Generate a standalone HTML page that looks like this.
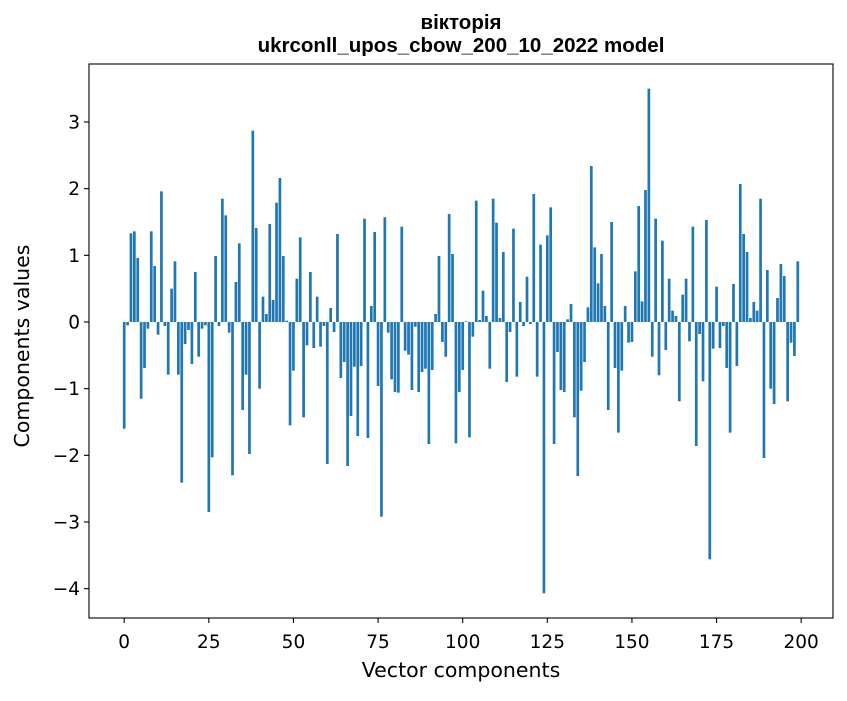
<!DOCTYPE html>
<html><head><meta charset="utf-8"><style>
body{margin:0;background:#fff;}
svg text{font-family:"DejaVu Sans","Liberation Sans",sans-serif;}
svg text.title{font-family:"Liberation Sans","DejaVu Sans",sans-serif;}
</style></head><body>
<svg id="chart" width="847" height="696" xmlns="http://www.w3.org/2000/svg">
<rect width="847" height="696" fill="#fff"/>
<text class="title" x="461" y="29" text-anchor="middle" font-size="20.5" font-weight="bold">вікторія</text>
<text class="title" x="461" y="52" text-anchor="middle" font-size="20.5" font-weight="bold">ukrconll_upos_cbow_200_10_2022 model</text>
<g id="bars"></g>
<g id="xticks"></g>
<g id="yticks"></g>
<rect x="89" y="64" width="744" height="554" fill="none" stroke="#000" stroke-width="1.1"/>
<text x="461" y="677" text-anchor="middle" font-size="20.5">Vector components</text>
<text x="29" y="346" text-anchor="middle" font-size="20.5" transform="rotate(-90 29 346)">Components values</text>
</svg>
<script>
const values = [
-1.6,-0.05,1.33,1.36,0.96,-1.15,-0.69,-0.1,1.36,0.84,
-0.19,1.96,-0.06,-0.79,0.5,0.91,-0.79,-2.41,-0.33,-0.12,
-0.63,0.75,-0.52,-0.1,-0.05,-2.85,-2.03,0.99,-0.06,1.85,
1.6,-0.16,-2.3,0.6,1.18,-1.32,-0.79,-1.98,2.87,1.41,
-1.0,0.38,0.12,1.47,0.33,1.79,2.16,0.99,0.02,-1.55,
-0.73,0.65,1.27,-1.43,-0.35,0.75,-0.39,0.38,-0.37,-0.06,
-2.13,0.21,-0.15,1.32,-0.84,-0.6,-2.16,-1.41,-0.67,-1.71,
-0.66,1.55,-1.74,0.24,1.35,-0.96,-2.92,1.57,-0.16,-0.86,
-1.05,-1.06,1.43,-0.43,-0.49,-1.02,-0.07,-1.05,-0.75,-0.7,
-1.83,-0.72,0.12,0.99,-0.3,-0.52,1.62,1.02,-1.82,-1.05,
-0.72,0.01,-1.73,-0.22,1.82,0.03,0.47,0.09,-0.7,1.85,
1.49,0.06,1.05,-0.9,-0.15,1.4,-0.82,0.3,-0.06,0.68,
-0.03,1.92,-0.82,1.16,-4.07,1.3,1.72,-1.83,-0.45,-1.02,
-1.05,0.04,0.27,-1.43,-2.31,-1.03,-0.6,0.22,2.34,1.12,
0.58,1.02,0.24,-1.32,1.5,-0.69,-1.66,-0.73,0.24,-0.31,
-0.3,0.76,1.74,0.31,1.98,3.5,-0.52,1.55,-0.8,1.22,
-0.42,0.65,0.17,0.09,-1.19,0.41,0.65,-0.29,1.43,-1.86,
-0.18,-0.89,1.53,-3.56,-0.4,0.53,-0.39,-0.06,-0.69,-1.66,
0.57,-0.66,2.07,1.32,1.05,0.06,0.3,0.17,1.85,-2.04,
0.78,-1.0,-1.23,0.36,0.87,0.69,-1.19,-0.31,-0.51,0.91];
const xTicks = [0,25,50,75,100,125,150,175,200];
const yTicks = [-4,-3,-2,-1,0,1,2,3];
const NS='http://www.w3.org/2000/svg';
const L=89,R=833,T=64,B=618;
const xMin=-10.4,xMax=209.4,yMin=-4.44,yMax=3.87;
function xs(v){return L+(v-xMin)/(xMax-xMin)*(R-L);}
function ys(v){return B-(v-yMin)/(yMax-yMin)*(B-T);}
const bars=document.getElementById('bars');
values.forEach((v,i)=>{
  const r=document.createElementNS(NS,'rect');
  const x0=xs(i-0.4),x1=xs(i+0.4);
  const y0=ys(Math.max(v,0)),y1=ys(Math.min(v,0));
  r.setAttribute('x',x0);r.setAttribute('width',x1-x0);
  r.setAttribute('y',y0);r.setAttribute('height',Math.max(y1-y0,0.3));
  r.setAttribute('fill','#1f77b4');
  
  
  bars.appendChild(r);
});
const xg=document.getElementById('xticks');
xTicks.forEach(t=>{
  const x=xs(t);
  const l=document.createElementNS(NS,'line');
  l.setAttribute('x1',x);l.setAttribute('x2',x);l.setAttribute('y1',B);l.setAttribute('y2',B+5);
  l.setAttribute('stroke','#000');l.setAttribute('stroke-width','1.1');
  
  
  xg.appendChild(l);
  const tx=document.createElementNS(NS,'text');
  tx.setAttribute('x',x);tx.setAttribute('y',B+30);tx.setAttribute('text-anchor','middle');tx.setAttribute('font-size','18.5');
  tx.textContent=t;
  
  
  xg.appendChild(tx);
});
const yg=document.getElementById('yticks');
yTicks.forEach(t=>{
  const y=ys(t);
  const l=document.createElementNS(NS,'line');
  l.setAttribute('x1',L-5);l.setAttribute('x2',L);l.setAttribute('y1',y);l.setAttribute('y2',y);
  l.setAttribute('stroke','#000');l.setAttribute('stroke-width','1.1');
  
  
  yg.appendChild(l);
  const tx=document.createElementNS(NS,'text');
  tx.setAttribute('x',L-9);tx.setAttribute('y',y+6.5);tx.setAttribute('text-anchor','end');tx.setAttribute('font-size','18.5');
  tx.textContent=t<0?'\u2212'+Math.abs(t):String(t);
  
  
  yg.appendChild(tx);
});
</script>
</body></html>
